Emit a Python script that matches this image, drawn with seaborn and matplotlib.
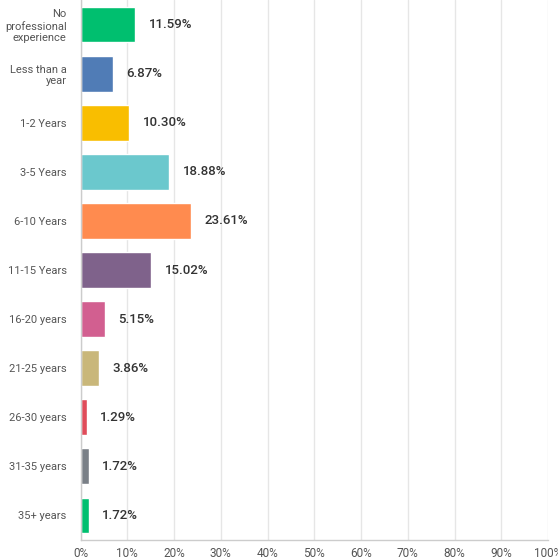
import matplotlib
matplotlib.use("Agg")
import matplotlib.pyplot as plt
import seaborn as sns
import pandas as pd

# data
categories = ["No\nprofessional\nexperience", "Less than a\nyear", "1-2 Years", "3-5 Years",
              "6-10 Years", "11-15 Years", "16-20 years", "21-25 years", "26-30 years",
              "31-35 years", "35+ years"]
percents = [11.59, 6.87, 10.30, 18.88, 23.61, 15.02, 5.15, 3.86, 1.29, 1.72, 1.72]
colors = ["#00BF6F", "#507CB6", "#F9BE00", "#6BC8CD", "#FF8B4F", "#7F628B",
          "#D25F90", "#C9B77A", "#E04C5A", "#7A8087", "#00BF6F"]
xticks = list(range(0, 101, 10))

df = pd.DataFrame({"category": categories, "percent": percents})

sns.set_style("white")
plt.rcParams["font.family"] = ["Roboto", "DejaVu Sans"]

fig = plt.figure(figsize=(5.58, 5.60), dpi=100)
ax = fig.add_axes([80.5 / 558, 20 / 560, (548 - 80.5) / 558, 540 / 560])

sns.barplot(data=df, x="percent", y="category", hue="category", palette=colors,
            orient="h", width=0.73, legend=False, ax=ax, saturation=1)

for i, v in enumerate(percents):
    ax.annotate(f"{v:.2f}%", xy=(v, i), xytext=(10, 0), textcoords="offset points",
                va="center", ha="left", fontsize=9.5, color="#333333", fontweight="medium")

ax.set_xlim(0, 100)
ax.set_ylim(len(categories) - 0.5, -0.5)
ax.set_xticks(xticks)
ax.set_xticklabels([f"{t}%" for t in xticks])
ax.xaxis.grid(True, color="#e6e6e6", linewidth=1)
ax.set_axisbelow(True)
ax.set_xlabel("")
ax.set_ylabel("")
for s in ["top", "right"]:
    ax.spines[s].set_visible(False)
for s in ["left", "bottom"]:
    ax.spines[s].set_color("#cccccc")
    ax.spines[s].set_linewidth(1)
ax.tick_params(axis="x", length=0, pad=5, labelsize=8.5, labelcolor="#555555")
ax.tick_params(axis="y", length=0, pad=10, labelsize=8, labelcolor="#555555")
for lbl in ax.get_yticklabels():
    lbl.set_multialignment("right")

fig.savefig("out.png", dpi=100)
